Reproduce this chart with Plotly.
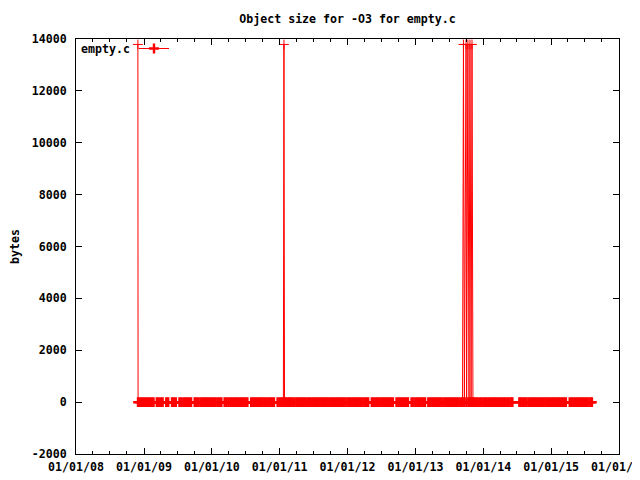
import plotly.graph_objects as go

# ---- data (date, object size in bytes) ----
dates_2008 = ["2008-11-29", "2008-11-30", "2008-12-11", "2008-12-21"]
sizes_2008 = [13790, 0, 0, 0]

dates_2009 = ["2009-01-01", "2009-01-11", "2009-01-21", "2009-02-01", "2009-02-11", "2009-02-21",
              "2009-03-11", "2009-03-21", "2009-04-01", "2009-04-11", "2009-05-01", "2009-05-11",
              "2009-06-01", "2009-06-11", "2009-06-21", "2009-07-11", "2009-07-21", "2009-08-01",
              "2009-08-11", "2009-08-21", "2009-09-01", "2009-09-11", "2009-10-01", "2009-10-11",
              "2009-10-21", "2009-11-01", "2009-11-11", "2009-11-21", "2009-12-01", "2009-12-11",
              "2009-12-21"]
sizes_2009 = [0, 0, 0, 0, 0, 0,
              0, 0, 0, 0, 0, 0,
              0, 0, 0, 0, 0, 0,
              0, 0, 0, 0, 0, 0,
              0, 0, 0, 0, 0, 0,
              0]

dates_2010 = ["2010-01-01", "2010-01-11", "2010-01-21", "2010-02-01", "2010-02-11", "2010-02-21",
              "2010-03-11", "2010-03-21", "2010-04-01", "2010-04-11", "2010-04-21", "2010-05-01",
              "2010-05-11", "2010-05-21", "2010-06-01", "2010-06-11", "2010-06-21", "2010-07-01",
              "2010-07-11", "2010-08-01", "2010-08-11", "2010-08-21", "2010-09-01", "2010-09-11",
              "2010-09-21", "2010-10-01", "2010-10-11", "2010-10-21", "2010-11-01", "2010-11-11",
              "2010-11-21", "2010-12-01", "2010-12-21"]
sizes_2010 = [0, 0, 0, 0, 0, 0,
              0, 0, 0, 0, 0, 0,
              0, 0, 0, 0, 0, 0,
              0, 0, 0, 0, 0, 0,
              0, 0, 0, 0, 0, 0,
              0, 0, 0]

dates_2011 = ["2011-01-01", "2011-01-11", "2011-01-21", "2011-01-24", "2011-01-27", "2011-02-01",
              "2011-02-11", "2011-02-21", "2011-03-01", "2011-03-11", "2011-03-21", "2011-04-01",
              "2011-04-11", "2011-04-21", "2011-05-01", "2011-05-11", "2011-05-21", "2011-06-01",
              "2011-06-11", "2011-06-21", "2011-07-01", "2011-07-11", "2011-07-21", "2011-08-01",
              "2011-08-11", "2011-08-21", "2011-09-01", "2011-09-11", "2011-09-21", "2011-10-01",
              "2011-10-11", "2011-10-21", "2011-11-01", "2011-11-11", "2011-11-21", "2011-12-01",
              "2011-12-11", "2011-12-21"]
sizes_2011 = [0, 0, 0, 13790, 0, 0,
              0, 0, 0, 0, 0, 0,
              0, 0, 0, 0, 0, 0,
              0, 0, 0, 0, 0, 0,
              0, 0, 0, 0, 0, 0,
              0, 0, 0, 0, 0, 0,
              0, 0]

dates_2012 = ["2012-01-01", "2012-01-11", "2012-01-21", "2012-02-01", "2012-02-11", "2012-02-21",
              "2012-03-01", "2012-03-11", "2012-03-21", "2012-04-01", "2012-04-11", "2012-04-21",
              "2012-05-11", "2012-05-21", "2012-06-01", "2012-06-11", "2012-06-21", "2012-07-01",
              "2012-07-11", "2012-07-21", "2012-08-01", "2012-08-11", "2012-08-21", "2012-09-01",
              "2012-09-21", "2012-10-01", "2012-10-11", "2012-10-21", "2012-11-01", "2012-11-11",
              "2012-11-21", "2012-12-11", "2012-12-21"]
sizes_2012 = [0, 0, 0, 0, 0, 0,
              0, 0, 0, 0, 0, 0,
              0, 0, 0, 0, 0, 0,
              0, 0, 0, 0, 0, 0,
              0, 0, 0, 0, 0, 0,
              0, 0, 0]

dates_2013 = ["2013-01-01", "2013-01-11", "2013-01-21", "2013-02-01", "2013-02-11", "2013-02-21",
              "2013-03-11", "2013-03-21", "2013-04-01", "2013-04-11", "2013-04-21", "2013-05-01",
              "2013-05-11", "2013-05-21", "2013-06-01", "2013-06-11", "2013-06-21", "2013-07-01",
              "2013-07-11", "2013-07-21", "2013-08-01", "2013-08-11", "2013-08-21", "2013-09-01",
              "2013-09-11", "2013-09-16", "2013-09-21", "2013-09-30", "2013-10-03", "2013-10-10",
              "2013-10-16", "2013-10-21", "2013-10-27", "2013-11-01", "2013-11-06", "2013-11-11",
              "2013-11-21", "2013-12-01", "2013-12-11", "2013-12-21"]
sizes_2013 = [0, 0, 0, 0, 0, 0,
              0, 0, 0, 0, 0, 0,
              0, 0, 0, 0, 0, 0,
              0, 0, 0, 0, 0, 0,
              0, 13790, 0, 13790, 0, 13790,
              0, 13790, 0, 13790, 0, 0,
              0, 0, 0, 0]

dates_2014 = ["2014-01-01", "2014-01-11", "2014-01-21", "2014-02-01", "2014-02-11", "2014-02-21",
              "2014-03-01", "2014-03-11", "2014-03-21", "2014-04-01", "2014-04-11", "2014-04-21",
              "2014-05-01", "2014-05-11", "2014-05-21", "2014-06-01", "2014-06-06", "2014-07-14",
              "2014-07-21", "2014-08-01", "2014-08-11", "2014-08-21", "2014-09-01", "2014-09-11",
              "2014-09-21", "2014-10-01", "2014-10-11", "2014-10-21", "2014-11-01", "2014-11-11",
              "2014-11-21", "2014-12-01", "2014-12-11", "2014-12-21"]
sizes_2014 = [0, 0, 0, 0, 0, 0,
              0, 0, 0, 0, 0, 0,
              0, 0, 0, 0, 0, 0,
              0, 0, 0, 0, 0, 0,
              0, 0, 0, 0, 0, 0,
              0, 0, 0, 0]

dates_2015 = ["2015-01-01", "2015-01-11", "2015-01-21", "2015-02-01", "2015-02-11", "2015-02-21",
              "2015-03-01", "2015-03-11", "2015-03-21", "2015-04-11", "2015-04-21", "2015-05-01",
              "2015-05-11", "2015-05-21", "2015-06-01", "2015-06-11", "2015-06-21", "2015-07-01",
              "2015-07-11", "2015-07-21", "2015-08-01", "2015-08-08"]
sizes_2015 = [0, 0, 0, 0, 0, 0,
              0, 0, 0, 0, 0, 0,
              0, 0, 0, 0, 0, 0,
              0, 0, 0, 0]

all_dates = (dates_2008 + dates_2009 + dates_2010 + dates_2011 + dates_2012
             + dates_2013 + dates_2014 + dates_2015)
all_sizes = (sizes_2008 + sizes_2009 + sizes_2010 + sizes_2011 + sizes_2012
             + sizes_2013 + sizes_2014 + sizes_2015)
assert len(all_dates) == len(all_sizes)

series_name = "empty.c"
x_range = ["2008-01-01", "2016-01-01"]
y_range = [-2000, 14000]
y_ticks = [-2000, 0, 2000, 4000, 6000, 8000, 10000, 12000, 14000]
y_ticktext = ["-2000", "0", "2000", "4000", "6000", "8000", "10000", "12000", "14000"]

FONT = dict(family="DejaVu Sans Mono", size=11.6, color="black", weight="bold")
RED = "#ff0000"

# The page body adds an 8px offset, so figure coords = window coords - 8.
OFF = 8
L, T = 76 - OFF, 39 - OFF            # plot left / top in figure coords
R = 640 - (619 - OFF)                # right margin
B = 480 - (454 - OFF)                # bottom margin
PW, PH = 640 - L - R, 480 - T - B

# thin '+' on isolated high points, heavier strokes where the dense baseline
# points overlap into a solid band (as in the gnuplot raster)
marker_line_widths = [1 if s > 0 else 2.5 for s in all_sizes]

fig = go.Figure()
fig.add_trace(go.Scatter(
    x=all_dates, y=all_sizes, mode="lines+markers", name="",
    line=dict(color=RED, width=1),
    marker=dict(symbol="cross-thin", size=7, color=RED,
                line=dict(color=RED, width=marker_line_widths)),
))

axis_common = dict(
    showline=True, linecolor="black", linewidth=1, mirror="allticks",
    ticks="inside", ticklen=6, tickcolor="black", tickwidth=1,
    showgrid=False, zeroline=False, tickfont=FONT, automargin=False,
)

fig.update_layout(
    width=640, height=480,
    margin=dict(l=L, r=R, t=T, b=B, pad=0, autoexpand=False),
    paper_bgcolor="white", plot_bgcolor="white",
    font=FONT,
    title=dict(text="Object size for -O3 for empty.c", font=FONT,
               x=0.5, xref="paper", xanchor="center",
               y=1 - 11 / 480, yref="container", yanchor="middle"),
    showlegend=True,
    legend=dict(x=58 / PW, y=1 - 9.5 / PH,
                xanchor="left", yanchor="middle",
                bgcolor="rgba(0,0,0,0)", borderwidth=0, font=FONT),
    annotations=[dict(text=series_name, xref="paper", yref="paper",
                      x=3 / PW, y=1 - 10 / PH,
                      xanchor="left", yanchor="middle", showarrow=False,
                      font=FONT)],
    xaxis=dict(type="date", range=x_range, tick0="2008-01-01", dtick="M12",
               tickformat="%m/%d/%y", ticklabelstandoff=2,
               minor=dict(dtick="M3", ticks="inside", ticklen=3, tickcolor="black"),
               **axis_common),
    yaxis=dict(range=y_range, tickvals=y_ticks, ticktext=y_ticktext,
               ticklabelstandoff=6,
               title=dict(text="bytes", font=FONT, standoff=11),
               **axis_common),
)

fig.write_html("out.html")
